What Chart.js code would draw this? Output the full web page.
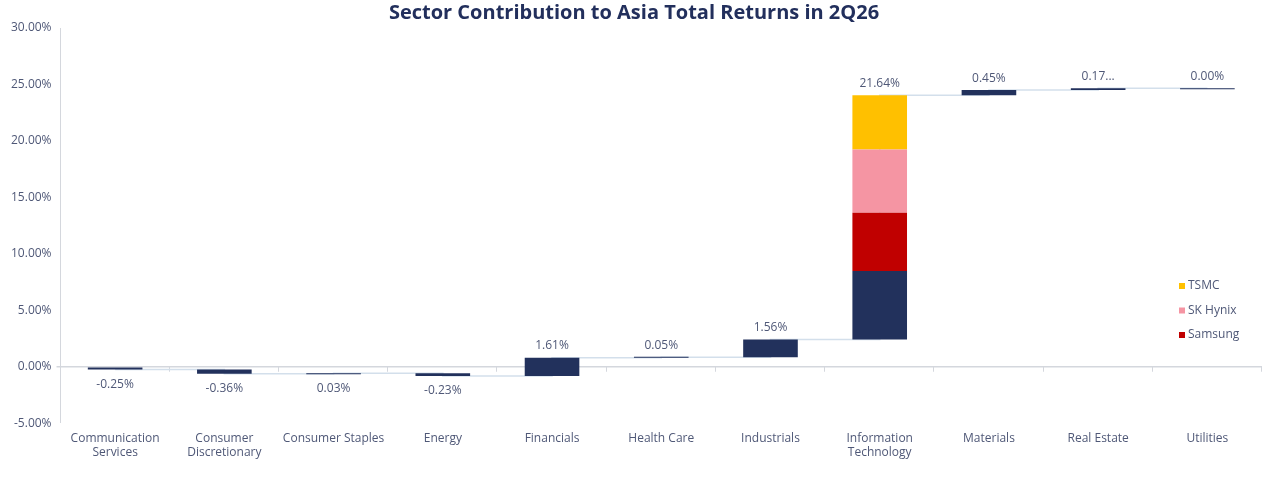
<!DOCTYPE html>
<html>
<head>
<meta charset="utf-8">
<script src="https://cdn.jsdelivr.net/npm/chart.js@4.4.1/dist/chart.umd.min.js"></script>
<style>
  html, body { margin: 0; background: #fff; }
</style>
</head>
<body>
<canvas id="myChart" width="1266" height="479"></canvas>
<script>
// sector contributions (percentage points)
const categories = [
  ['Communication', 'Services'], ['Consumer', 'Discretionary'], 'Consumer Staples',
  'Energy', 'Financials', 'Health Care', 'Industrials', ['Information', 'Technology'],
  'Materials', 'Real Estate', 'Utilities'
];
const contributions = [-0.25, -0.36, 0.03, -0.23, 1.61, 0.05, 1.56, 21.64, 0.45, 0.17, 0.00];
const barLabels = ['-0.25%', '-0.36%', '0.03%', '-0.23%', '1.61%', '0.05%', '1.56%', '21.64%', '0.45%', '0.17...', '0.00%'];

// breakdown of the Information Technology bar
const itIndex = 7;
const itOther = 6.08;
const samsung = 5.15;
const skHynix = 5.60;
const tsmc = 4.81;

const yMin = -5, yMax = 30, yStep = 5;

const font = '"Open Sans", "Noto Sans", sans-serif';
const navy = '#22315c';
const textColor = '#4f5877';

// running totals for the waterfall
const starts = [], ends = [];
let run = 0;
contributions.forEach(v => { starts.push(run); run += v; ends.push(run); });

const base = starts[itIndex];
const onlyIt = range => categories.map((c, i) => i === itIndex ? range : null);

const otherData = contributions.map((v, i) =>
  i === itIndex ? [base, base + itOther] : [starts[i], ends[i]]);

const barCommon = { grouped: false, barPercentage: 0.5, categoryPercentage: 1, order: 1 };

const zeroTicks = {
  id: 'zeroTicks',
  beforeDatasetsDraw(chart) {
    const { ctx, chartArea, scales } = chart;
    const y0 = scales.y.getPixelForValue(0);
    const w = (chartArea.right - chartArea.left) / categories.length;
    ctx.save();
    ctx.strokeStyle = '#d4d7dd';
    ctx.lineWidth = 1;
    for (let i = 1; i <= categories.length; i++) {
      const x = Math.round(chartArea.left + i * w) - 0.5;
      ctx.beginPath();
      ctx.moveTo(x, y0);
      ctx.lineTo(x, y0 + 5);
      ctx.stroke();
    }
    ctx.restore();
  }
};

const valueLabels = {
  id: 'valueLabels',
  afterDatasetsDraw(chart) {
    const { ctx, scales } = chart;
    ctx.save();
    ctx.font = '12px ' + font;
    ctx.fillStyle = textColor;
    ctx.textAlign = 'center';
    contributions.forEach((v, i) => {
      const cx = scales.x.getPixelForValue(i);
      const top = scales.y.getPixelForValue(Math.max(starts[i], ends[i]));
      const bottom = scales.y.getPixelForValue(Math.min(starts[i], ends[i]));
      if (ends[i] < 0) {
        ctx.textBaseline = 'top';
        ctx.fillText(barLabels[i], cx, bottom + 9);
      } else {
        ctx.textBaseline = 'bottom';
        ctx.fillText(barLabels[i], cx, top - 6);
      }
    });
    ctx.restore();
  }
};

const sideLegend = {
  id: 'sideLegend',
  afterDraw(chart) {
    const { ctx } = chart;
    const items = chart.data.datasets.filter(d => d.showInLegend).reverse();
    ctx.save();
    ctx.font = '12px ' + font;
    ctx.textBaseline = 'middle';
    ctx.textAlign = 'left';
    items.forEach((d, k) => {
      const y = 286 + k * 24.5;
      ctx.fillStyle = d.backgroundColor;
      ctx.fillRect(1179, y - 3, 6, 6);
      ctx.fillStyle = textColor;
      ctx.fillText(d.label, 1188, y);
    });
    ctx.restore();
  }
};

new Chart(document.getElementById('myChart').getContext('2d'), {
  type: 'bar',
  data: {
    labels: categories,
    datasets: [
      {
        type: 'line',
        label: 'Connector',
        data: ends,
        stepped: 'before',
        borderColor: '#d3dfeb',
        borderWidth: 1.5,
        pointRadius: 0,
        fill: false,
        order: 5
      },
      { ...barCommon, label: 'Other', data: otherData, backgroundColor: navy, minBarLength: 1 },
      { ...barCommon, label: 'Samsung', data: onlyIt([base + itOther, base + itOther + samsung]), backgroundColor: '#c00000', showInLegend: true },
      { ...barCommon, label: 'SK Hynix', data: onlyIt([base + itOther + samsung, base + itOther + samsung + skHynix]), backgroundColor: '#f595a3', showInLegend: true },
      { ...barCommon, label: 'TSMC', data: onlyIt([base + itOther + samsung + skHynix, base + itOther + samsung + skHynix + tsmc]), backgroundColor: '#ffc000', showInLegend: true }
    ]
  },
  options: {
    responsive: false,
    animation: false,
    layout: { padding: { left: 6, right: 4, top: 0, bottom: 19 } },
    plugins: {
      legend: { display: false },
      tooltip: { enabled: false },
      title: {
        display: true,
        text: 'Sector Contribution to Asia Total Returns in 2Q26',
        color: '#222f5c',
        font: { family: font, size: 20, weight: 'bold' },
        padding: { top: 1, bottom: 3 }
      }
    },
    scales: {
      x: {
        grid: { display: false },
        border: { display: false },
        ticks: { color: textColor, font: { family: font, size: 12 }, padding: 0, maxRotation: 0, autoSkip: false }
      },
      y: {
        min: yMin,
        max: yMax,
        ticks: {
          stepSize: yStep,
          color: textColor,
          font: { family: font, size: 12 },
          padding: 5,
          callback: v => v.toFixed(2) + '%'
        },
        grid: {
          color: c => c.tick && c.tick.value === 0 ? '#d4d7dd' : 'rgba(0,0,0,0)',
          lineWidth: c => c.tick && c.tick.value === 0 ? 1.5 : 0,
          tickColor: '#d4d7dd',
          tickLength: 4
        },
        border: { color: '#d4d7dd' }
      }
    }
  },
  plugins: [zeroTicks, valueLabels, sideLegend]
});
</script>
</body>
</html>
